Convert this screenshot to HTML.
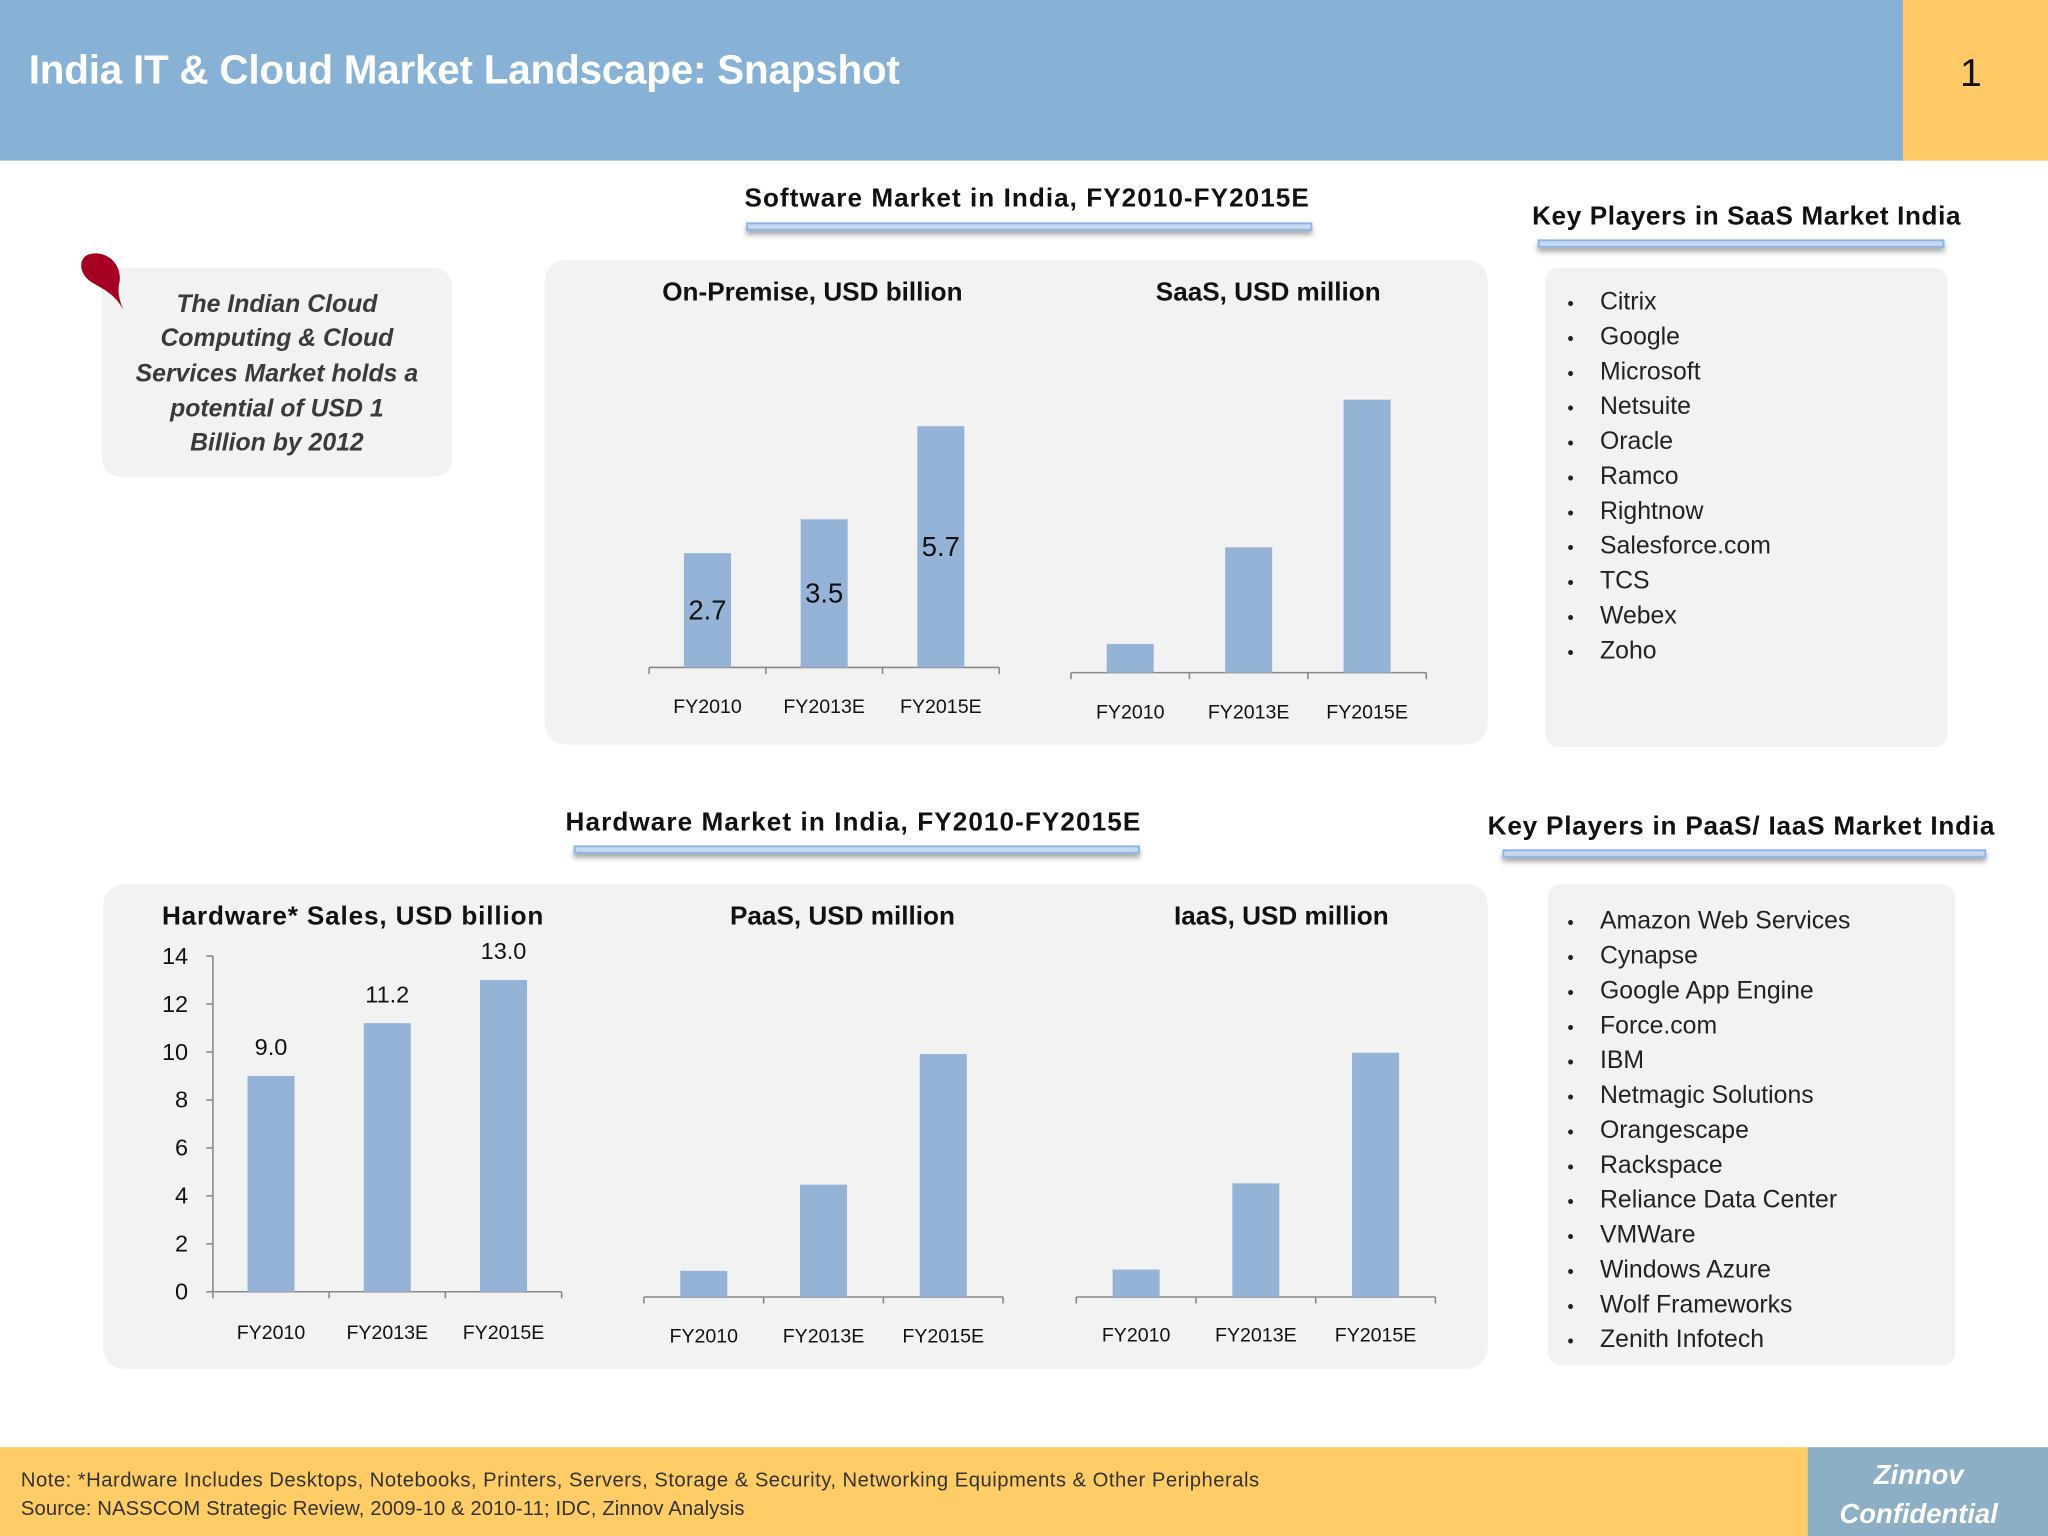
<!DOCTYPE html>
<html><head><meta charset="utf-8"><style>
html,body{margin:0;padding:0;background:#fff;}
svg{display:block;font-family:"Liberation Sans",sans-serif;}
</style></head><body>
<svg id="s" width="2048" height="1536" viewBox="0 0 1568 1176" xmlns="http://www.w3.org/2000/svg">
<defs><filter id="sh" x="-5%" y="-100%" width="110%" height="400%"><feDropShadow dx="0" dy="3" stdDeviation="2" flood-color="#000" flood-opacity="0.35"/></filter></defs>
<rect x="0" y="0" width="1457" height="123" fill="#87B2D5"/>
<rect x="1457" y="0" width="111" height="123" fill="#FFC966"/>
<text x="22" y="64" font-size="31" font-weight="bold" fill="#fff" textLength="667">India IT &amp; Cloud Market Landscape: Snapshot</text>
<text x="1509" y="66" font-size="30" text-anchor="middle" fill="#111">1</text>

<rect x="0" y="1108" width="1384" height="68" fill="#FFCC66"/>
<rect x="1384" y="1108" width="184" height="68" fill="#8DAFC5"/>
<text x="1469" y="1136" font-size="21" font-style="italic" font-weight="bold" fill="#fff" text-anchor="middle">Zinnov</text>
<text x="1469" y="1166" font-size="21" font-style="italic" font-weight="bold" fill="#fff" text-anchor="middle">Confidential</text>
<text x="16" y="1138" font-size="15.5" fill="#333" textLength="948">Note: *Hardware Includes Desktops, Notebooks, Printers, Servers, Storage &amp; Security,  Networking Equipments &amp; Other Peripherals</text>
<text x="16" y="1160" font-size="15.5" fill="#333" textLength="554">Source: NASSCOM Strategic Review, 2009-10 &amp; 2010-11; IDC, Zinnov Analysis</text>

<rect x="78" y="205" width="268" height="160" rx="14" fill="#F2F2F2"/>
<path d="M95,238 C88,225 80,222 70,216 C58,208 60,193 74,194 C88,195 94,208 91,218 C90,225 92,232 95,238 Z" fill="#A50021"/>
<g font-size="19" font-style="italic" font-weight="bold" fill="#3A3A3A" text-anchor="middle">
<text x="212" y="239">The Indian Cloud</text><text x="212" y="265">Computing &amp; Cloud</text><text x="212" y="292">Services Market holds a</text><text x="212" y="319">potential of USD 1</text><text x="212" y="345">Billion by 2012</text></g>

<rect x="417" y="199" width="722" height="371" rx="16" fill="#F2F2F2"/>
<rect x="79" y="677" width="1060" height="371" rx="16" fill="#F2F2F2"/>
<rect x="1183" y="205" width="308" height="367" rx="10" fill="#F2F2F2"/>
<rect x="1185" y="677" width="312" height="368" rx="10" fill="#F2F2F2"/>

<g font-size="20" font-weight="bold" fill="#111" text-anchor="middle">
<text x="786" y="158" textLength="432">Software Market in India, FY2010-FY2015E</text>
<text x="1337" y="172" textLength="328">Key Players in SaaS Market India</text>
<text x="653" y="636" textLength="440">Hardware Market in India, FY2010-FY2015E</text>
<text x="1333" y="639" textLength="388">Key Players in PaaS/ IaaS Market India</text>
<text x="622" y="230">On-Premise, USD billion</text>
<text x="971" y="230">SaaS, USD million</text>
<text x="270" y="708" textLength="292">Hardware* Sales, USD billion</text>
<text x="645" y="708">PaaS, USD million</text>
<text x="981" y="708">IaaS, USD million</text>
</g>
<g fill="#C6D9F1" stroke="#8EB4E3" stroke-width="1.5" filter="url(#sh)">
<rect x="572" y="171" width="432" height="5"/>
<rect x="1178" y="184" width="310" height="5"/>
<rect x="440" y="648" width="432" height="5"/>
<rect x="1151" y="651" width="369" height="5"/>
</g>
<g id="charts"></g>
<g id="lists" font-size="19" fill="#222"></g>
</svg>
<script>
const categories = ["FY2010","FY2013E","FY2015E"];
const onPremValues = [2.7, 3.5, 5.7];
const saasValues = [22, 96, 209];
const hardwareValues = [9.0, 11.2, 13.0];
const hardwareTicks = [0,2,4,6,8,10,12,14];
const paasValues = [20, 86, 186];
const iaasValues = [21, 87, 187];
const saasPlayers = ["Citrix","Google","Microsoft","Netsuite","Oracle","Ramco","Rightnow","Salesforce.com","TCS","Webex","Zoho"];
const paasPlayers = ["Amazon Web Services","Cynapse","Google App Engine","Force.com","IBM","Netmagic Solutions","Orangescape","Rackspace","Reliance Data Center","VMWare","Windows Azure","Wolf Frameworks","Zenith Infotech"];

const NS="http://www.w3.org/2000/svg";
const g=document.getElementById('charts');
function mk(tag,attrs,parent){const e=document.createElementNS(NS,tag);for(const k in attrs)e.setAttribute(k,attrs[k]);(parent||g).appendChild(e);return e;}

function chart(name,x0,x1,base,vals,pxPerUnit,labelMode,yTicks,catY){
  const n=vals.length,w=(x1-x0)/n;
  const xs=i=>x0+w*(i+0.5), ys=v=>base-v*pxPerUnit;
  const ax=mk('line',{x1:x0,y1:base,x2:x1,y2:base,stroke:'#888','stroke-width':1.2});
  
  
  for(let i=0;i<=n;i++){mk('line',{x1:x0+w*i,y1:base,x2:x0+w*i,y2:base+5,stroke:'#888','stroke-width':1.2});}
  vals.forEach((v,i)=>{
    const r=mk('rect',{x:xs(i)-18,y:ys(v),width:36,height:base-ys(v),fill:'#95B3D7'});
    
    
    const t=mk('text',{x:xs(i),y:catY,'font-size':15,'text-anchor':'middle',fill:'#111'});
    t.textContent=categories[i];
    
    
    if(labelMode){
      const ly = labelMode==='mid' ? base-(base-ys(v))/2+7 : ys(v)-16;
      const l=mk('text',{x:xs(i),y:ly,'font-size':labelMode==='mid'?21:18,'text-anchor':'middle',fill:'#111'});
      l.textContent=v.toFixed(1);
      
      
    }
  });
  if(yTicks){
    const ya=mk('line',{x1:x0,y1:base,x2:x0,y2:ys(yTicks[yTicks.length-1]),stroke:'#888','stroke-width':1.2});
    
    
    yTicks.forEach(t=>{
      mk('line',{x1:x0-5,y1:ys(t),x2:x0,y2:ys(t),stroke:'#888','stroke-width':1.2});
      const l=mk('text',{x:x0-19,y:ys(t)+6,'font-size':18,'text-anchor':'end',fill:'#111'});
      l.textContent=t;
      
      
    });
  }
}
chart('onpremise',497,765,511,onPremValues,32.4,'mid',null,546);
chart('saas',820,1092,515,saasValues,1,null,null,550);
chart('hardware',163,430,989,hardwareValues,18.36,'top',hardwareTicks,1025);
chart('paas',493,768,993,paasValues,1,null,null,1028);
chart('iaas',824,1099,993,iaasValues,1,null,null,1027);

const lg=document.getElementById('lists');
function list(name,items,y0,dy){
  items.forEach((s,i)=>{
    const b=mk('text',{x:1200,y:y0+dy*i,'font-size':14},lg);b.textContent='•';
    
    
    const t=mk('text',{x:1225,y:y0+dy*i},lg);t.textContent=s;
    
    
  });
}
list('saas-player',saasPlayers,237,26.7);
list('paas-player',paasPlayers,711,26.7);
</script>
</body></html>
